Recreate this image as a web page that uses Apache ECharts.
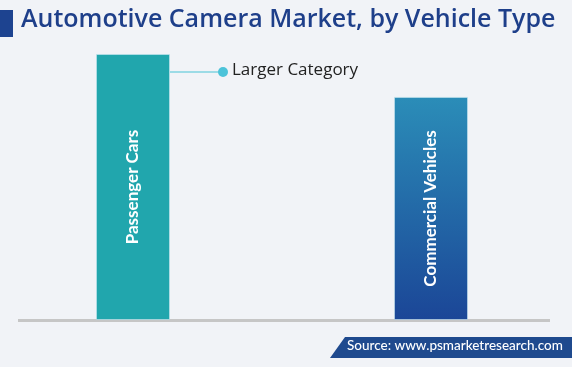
<!DOCTYPE html>
<html><head><meta charset="utf-8">
<script src="https://cdn.jsdelivr.net/npm/echarts@6/dist/echarts.min.js"></script>
<style>html,body{margin:0;padding:0;background:#f1f3f7;}#c{width:572px;height:367px;}</style>
</head><body><div id="c"></div>
<script>
var categories = ["Passenger Cars", "Commercial Vehicles"];
var values = [62, 52];
var titleText = "Automotive Camera Market, by Vehicle Type";
var annotationText = "Larger Category";
var sourceText = "Source: www.psmarketresearch.com";

var chart = echarts.init(document.getElementById('c'));
var colors = [
  '#21a6ad',
  new echarts.graphic.LinearGradient(0,0,0,1,[{offset:0,color:'#2b8db8'},{offset:1,color:'#1b4697'}])
];
chart.setOption({
  backgroundColor: '#f1f3f7',
  animation: false,
  grid: {left: 133, right: 141, top: 54, bottom: 47},
  xAxis: {type:'category', boundaryGap:false, data: categories, axisLine:{show:false}, axisTick:{show:false}, axisLabel:{show:false}},
  yAxis: {type:'value', min:0, max:'dataMax', show:false, splitLine:{show:false}},
  series: [{
    type:'bar', barWidth:74, clip:false,
    data: values.map(function(v,i){return {value:v, itemStyle:{color:colors[i], borderColor:'rgba(200,230,240,0.6)', borderWidth:1}};}),
    label:{show:true, position:'inside', rotate:90, formatter:function(p){return p.name;},
      color:'#fff', fontFamily:'Lato', fontWeight:'bold', fontSize:17}
  }],
  graphic: [
    {type:'rect', shape:{x:0,y:10,width:13,height:27}, style:{fill:'#1d4390'}},
    {type:'text', left:21, top:7, style:{text:titleText, fill:'#1e3f8a', font:'600 25px "Open Sans"'}},
    {type:'rect', shape:{x:18,y:319,width:532,height:3}, style:{fill:'#c6c6c6'}},
    {type:'line', shape:{x1:170,y1:72,x2:223,y2:72}, style:{stroke:'#7fd3e0', lineWidth:1.5}},
    {type:'circle', shape:{cx:223,cy:72,r:5}, style:{fill:'#4cc3d9'}},
    {type:'text', left:232, top:62, style:{text:annotationText, fill:'#222', font:'17px "Open Sans"'}},
    {type:'polygon', shape:{points:[[330,358],[345,337],[572,337],[572,358]]}, style:{fill:'#1f4a8e'}},
    {type:'text', left:347, top:339, style:{text:sourceText, fill:'#fff', font:'500 13.5px Lato'}}
  ]
});
</script></body></html>
